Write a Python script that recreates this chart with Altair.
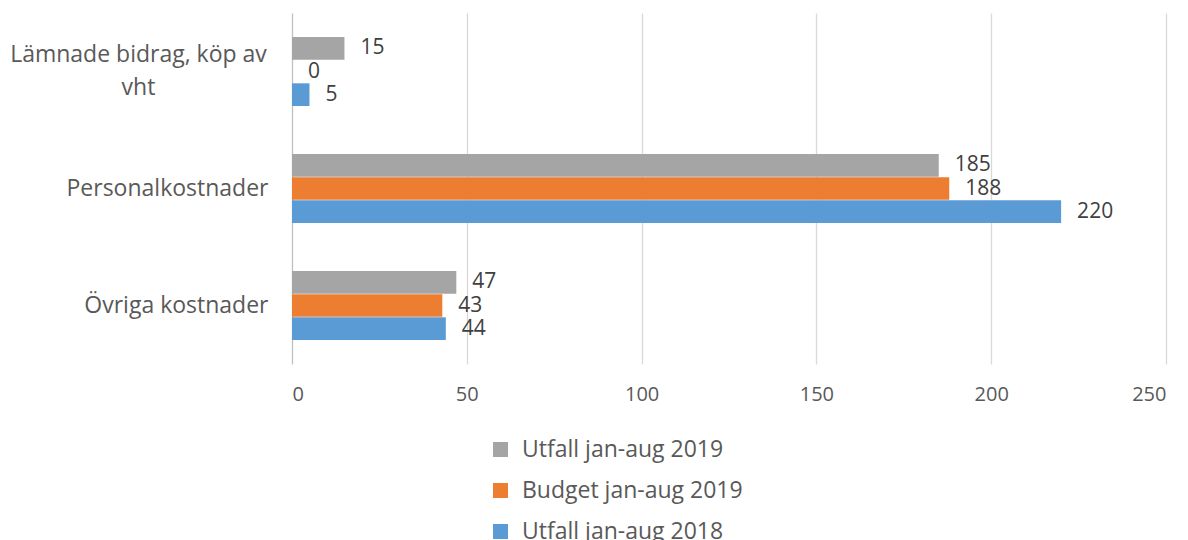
import altair as alt
import pandas as pd

categories = ["Lämnade bidrag, köp av vht", "Personalkostnader", "Övriga kostnader"]
series = ["Utfall jan-aug 2019", "Budget jan-aug 2019", "Utfall jan-aug 2018"]
utfall_2019 = [15, 185, 47]
budget_2019 = [0, 188, 43]
utfall_2018 = [5, 220, 44]
colors = ["#A5A5A5", "#ED7D31", "#5B9BD5"]
x_ticks = [0, 50, 100, 150, 200, 250]

rows = []
for s, vals in zip(series, [utfall_2019, budget_2019, utfall_2018]):
    for c, v in zip(categories, vals):
        rows.append({"cat": c, "series": s, "value": v})
df = pd.DataFrame(rows)

FONT = "Open Sans"
first = categories[0]
is_first = f"datum.value == '{first}'"

y_axis = alt.Axis(
    title=None,
    domain=False,
    ticks=False,
    labelFont=FONT,
    labelFontSize=23,
    labelColor="#595959",
    labelLineHeight=33,
    labelLimit=400,
    labelExpr=f"{is_first} ? ['Lämnade bidrag, köp av', 'vht'] : datum.label",
    labelAlign={"condition": {"test": is_first, "value": "center"}, "value": "right"},
    labelPadding={"condition": {"test": is_first, "value": 154}, "value": 24},
    labelOffset={"condition": {"test": is_first, "value": -17}, "value": 0},
)

x_axis = alt.Axis(
    title=None,
    values=x_ticks,
    domain=False,
    ticks=False,
    grid=True,
    gridColor={"condition": {"test": "datum.value == 0", "value": "#BFBFBF"}, "value": "#D9D9D9"},
    gridWidth=1.3,
    labelFont=FONT,
    labelFontSize=20,
    labelColor="#595959",
    labelPadding=20,
)

base = alt.Chart(df).encode(
    y=alt.Y("cat:N", sort=categories,
            scale=alt.Scale(paddingInner=0.41, paddingOuter=0.205), axis=y_axis),
    yOffset=alt.YOffset("series:N", sort=series,
                        scale=alt.Scale(paddingInner=0.02, paddingOuter=0)),
    x=alt.X("value:Q", scale=alt.Scale(domain=[0, 250], nice=False), axis=x_axis),
)

bars = base.mark_bar().encode(
    color=alt.Color(
        "series:N",
        sort=series,
        scale=alt.Scale(domain=series, range=colors),
        legend=alt.Legend(
            title=None,
            orient="none",
            legendX=197,
            legendY=425,
            direction="vertical",
            symbolType="square",
            symbolSize=225,
            symbolStrokeWidth=0,
            labelFont=FONT,
            labelFontSize=23,
            labelColor="#595959",
            labelOffset=10,
            labelLimit=400,
            rowPadding=17,
        ),
    )
)

labels = base.mark_text(
    align="left", baseline="middle", dx=16, font=FONT, fontSize=21, color="#404040"
).encode(text="value:Q")

chart = (
    alt.layer(bars, labels)
    .properties(
        width=874,
        height=351,
        autosize=alt.AutoSizeParams(type="none"),
        padding={"left": 284, "top": 5, "right": 14, "bottom": 176},
    )
    .configure_view(stroke=None)
)

chart.save("out.html", embed_options={"renderer": "svg", "actions": False})
